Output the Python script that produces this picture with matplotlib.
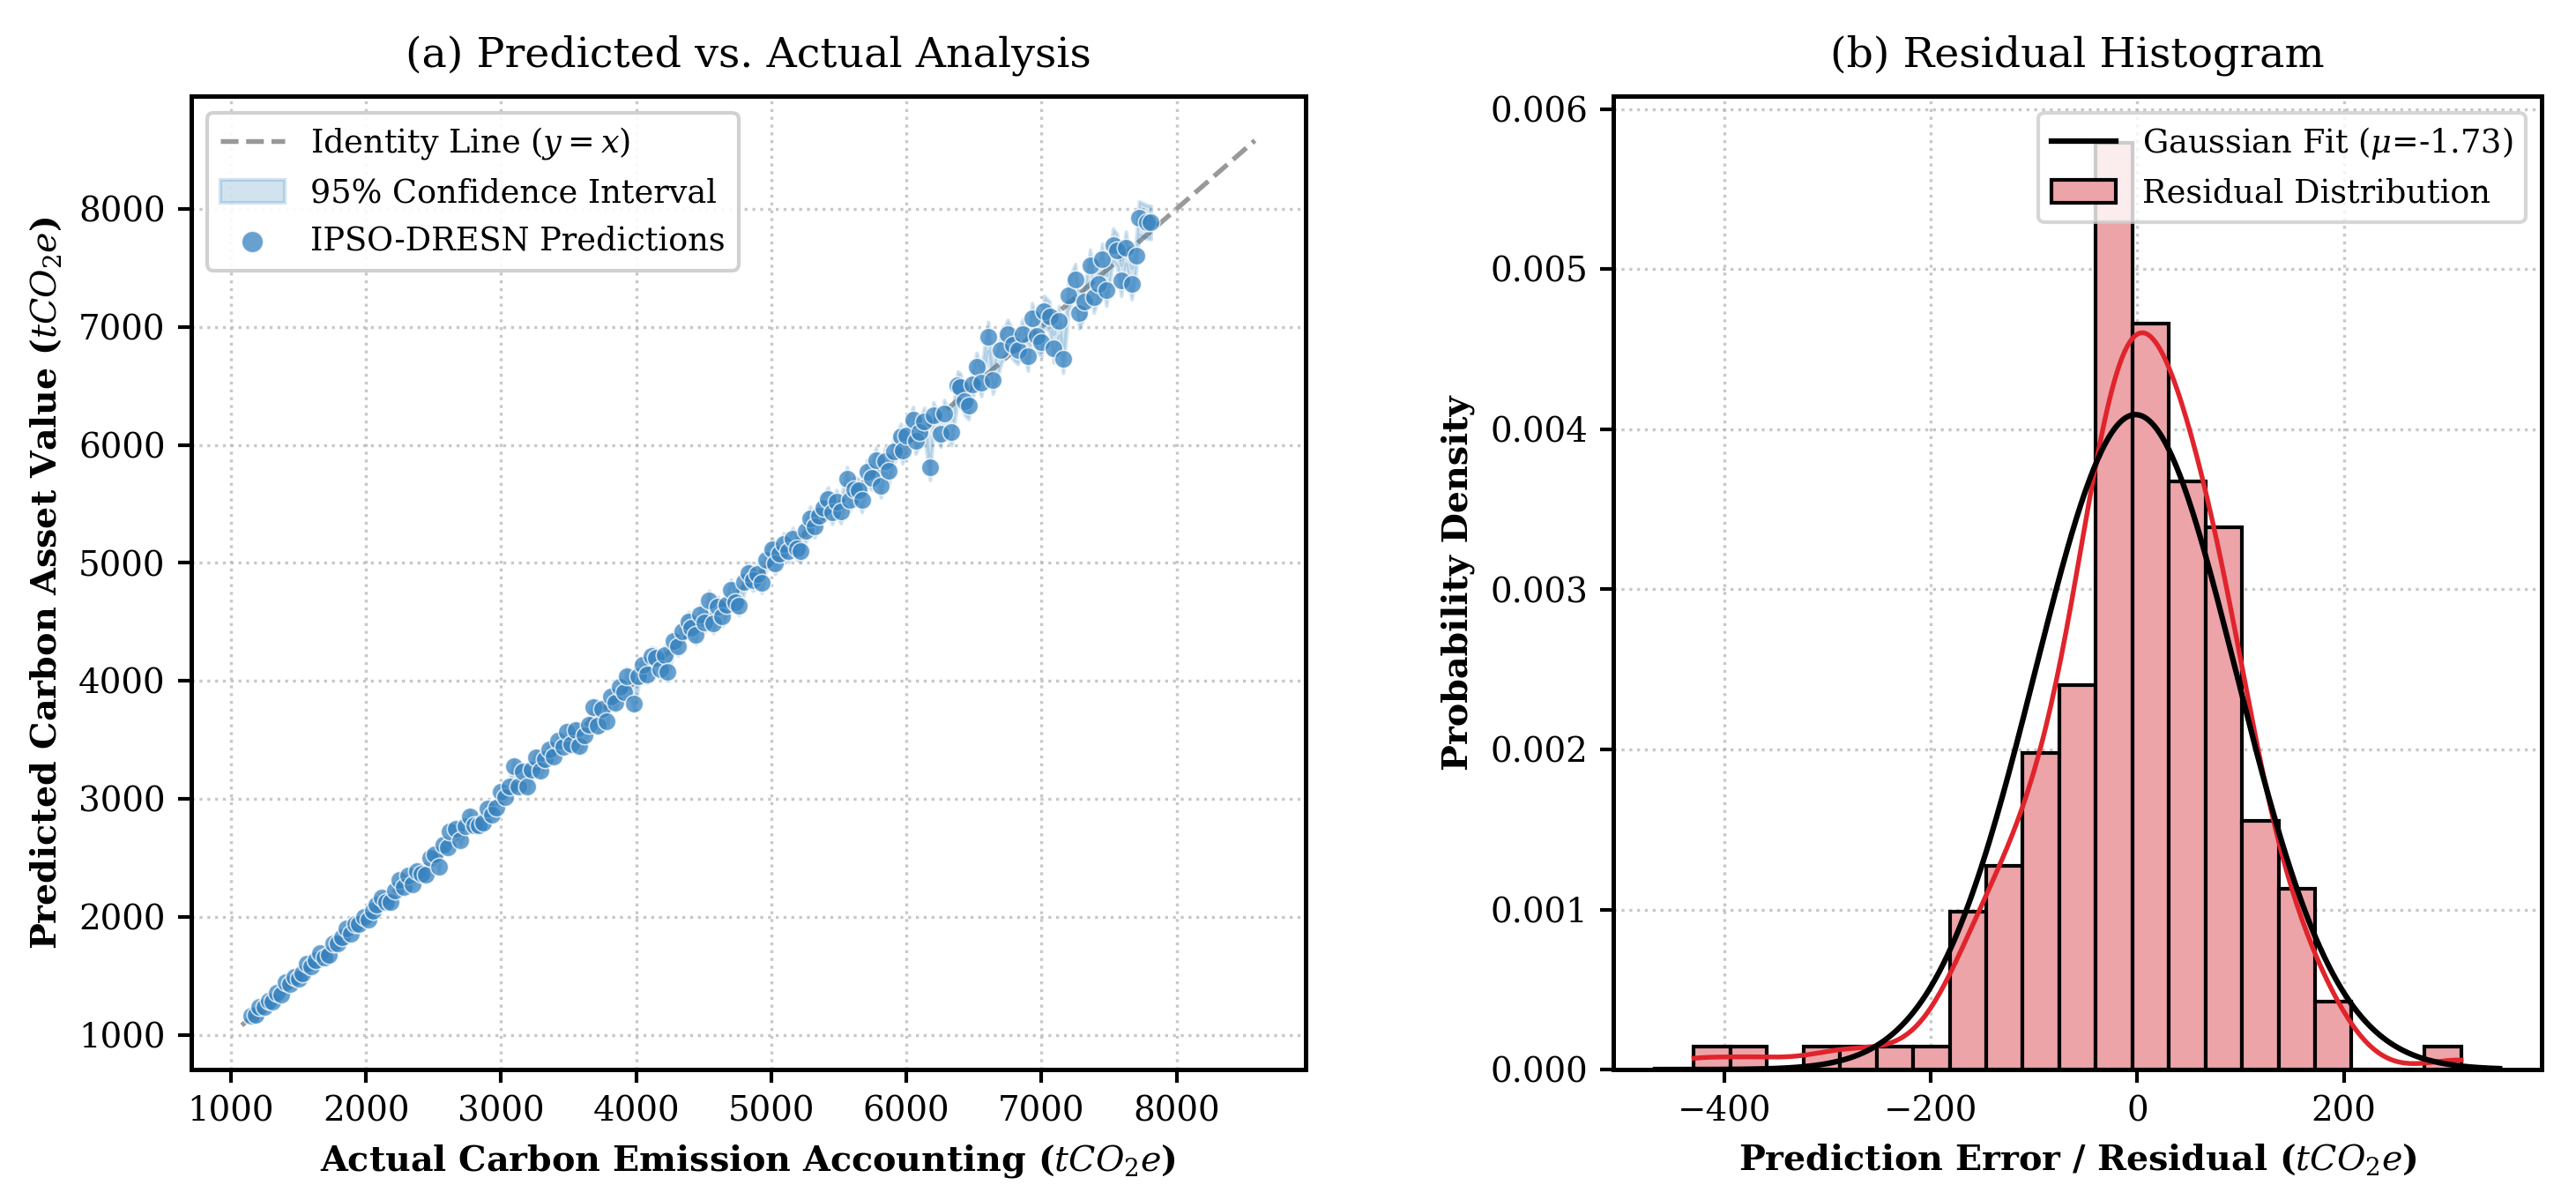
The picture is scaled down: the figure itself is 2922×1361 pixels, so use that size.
import numpy as np
import matplotlib
matplotlib.use("Agg")
import matplotlib.pyplot as plt

plt.rcParams["font.family"] = "DejaVu Serif"
plt.rcParams["mathtext.fontset"] = "dejavuserif"

# actual carbon emission accounting (tCO2e)
actual = [
    1150, 1185, 1210, 1248, 1280, 1305, 1342, 1370, 1405, 1440,
    1468, 1502, 1530, 1565, 1598, 1630, 1662, 1690, 1725, 1760,
    1792, 1820, 1855, 1888, 1920, 1950, 1985, 2018, 2050, 2080,
    2115, 2148, 2180, 2212, 2245, 2280, 2310, 2342, 2378, 2410,
    2440, 2475, 2508, 2540, 2572, 2605, 2620, 2668, 2700, 2735,
    2768, 2800, 2832, 2865, 2898, 2930, 2962, 2995, 3028, 3060,
    3095, 3128, 3160, 3195, 3228, 3260, 3292, 3325, 3358, 3390,
    3425, 3458, 3490, 3522, 3555, 3581, 3620, 3652, 3685, 3718,
    3750, 3781, 3815, 3848, 3880, 3912, 3930, 3986, 4018, 4050,
    4082, 4115, 4148, 4180, 4212, 4230, 4278, 4310, 4342, 4390,
    4410, 4442, 4475, 4508, 4540, 4572, 4605, 4638, 4670, 4702,
    4735, 4760, 4800, 4832, 4865, 4898, 4930, 4962, 5010, 5028,
    5060, 5092, 5125, 5158, 5190, 5217, 5255, 5288, 5320, 5352,
    5385, 5420, 5450, 5482, 5515, 5560, 5580, 5612, 5645, 5671,
    5710, 5742, 5775, 5811, 5840, 5872, 5905, 5960, 5970, 6002,
    6050, 6068, 6100, 6132, 6175, 6200, 6254, 6280, 6335, 6380,
    6400, 6430, 6460, 6490, 6520, 6555, 6605, 6640, 6700, 6750,
    6790, 6825, 6860, 6900, 6930, 6965, 7000, 7020, 7060, 7090,
    7130, 7160, 7200, 7250, 7280, 7320, 7360, 7387, 7420, 7450,
    7480, 7530, 7560, 7590, 7625, 7668, 7700, 7722, 7780, 7810,
]

# residual = predicted - actual, one per point above
residual = [
    12, -18, 25, -10, 8, -22, 15, -30, 40, -12,
    20, -25, -8, 35, -15, 5, 28, -35, -45, 18,
    -20, 10, 45, -28, 22, -12, 15, -38, 2, 26,
    48, -22, -55, 15, 70, -30, 38, -65, 12, -48,
    -85, 25, 18, -115, 40, -18, 105, 75, -48, 32,
    85, -25, -58, -70, 18, -62, -35, 65, -10, 45,
    180, -20, 75, -90, 22, 88, -50, 12, 58, -28,
    65, -15, 80, -60, 28, -135, -85, -22, 90, -95,
    15, -125, 52, -35, 70, -8, 110, -175, 20, 85,
    -30, 95, 48, -78, 10, -155, 62, -18, 78, 115,
    40, -52, 90, -12, 140, -88, 25, -92, -25, 72,
    -65, -120, 38, 82, -15, 5, -98, 60, 105, -32,
    20, 68, -28, 45, -70, -118, 15, 92, -10, 50,
    85, 120, -22, 35, -82, 150, -45, 12, -30, -140,
    60, -18, 95, -155, 25, -95, 40, 110, -20, 78,
    160, -35, 10, 70, -368, 48, -160, -12, -228, 125,
    88, -60, -128, 20, 140, -25, 313.8, -90, 105, 185,
    55, -18, 80, -150, 145, -45, -130, 115, 28, -270,
    -80, -429.6, 65, 150, -165, -105, 160, -137, -55, 120,
    -170, 165, 90, -195, 45, -300, -100, 200, 110, 75,
]

MU_FIT = -1.73
SIGMA_FIT = 97.5
N_BINS = 21
CI_REL = 0.018


def kde_curve(vals, n=300):
    bw = vals.std(ddof=1) * len(vals) ** (-1 / 5)
    xs = np.linspace(vals.min(), vals.max(), n)
    z = (xs[:, None] - vals[None, :]) / bw
    ys = np.exp(-0.5 * z ** 2).sum(axis=1) / (len(vals) * bw * np.sqrt(2 * np.pi))
    return xs, ys


def style_ax(ax):
    ax.grid(True, linestyle=":", color="#bbbbbb", linewidth=0.8, alpha=0.8)
    ax.set_axisbelow(True)
    for s in ax.spines.values():
        s.set_linewidth(1.2)
        s.set_color("black")
    ax.tick_params(labelsize=9.3, width=1.0, length=3.5)


act = np.array(actual, dtype=float)
res = np.array(residual, dtype=float)
pred = act + res

fig = plt.figure(figsize=(9.74, 4.537), dpi=300)
ax1 = fig.add_axes([0.0742, 0.1087, 0.4326, 0.8110])
ax2 = fig.add_axes([0.6263, 0.1087, 0.3604, 0.8110])

# ---- (a) predicted vs actual
lo = min(act.min(), pred.min()) * 0.94
hi = max(act.max(), pred.max()) * 1.083
ax1.plot([lo, hi], [lo, hi], "--", color="#999999", lw=1.3, label=r"Identity Line ($y=x$)", zorder=2)
order = np.argsort(act)
ax1.fill_between(act[order], pred[order] * (1 - CI_REL), pred[order] * (1 + CI_REL),
                 color="#1f77b4", alpha=0.2, label="95% Confidence Interval", zorder=2)
ax1.scatter(act, pred, s=24, color="#3682bf", alpha=0.75, edgecolor="white", linewidth=0.4,
            label="IPSO-DRESN Predictions", zorder=3)
ax1.set_xticks(range(1000, 9000, 1000))
ax1.set_yticks(range(1000, 9000, 1000))
ax1.set_xlabel(r"Actual Carbon Emission Accounting ($tCO_2e$)", fontsize=9.5, fontweight="bold")
ax1.set_ylabel(r"Predicted Carbon Asset Value ($tCO_2e$)", fontsize=9.5, fontweight="bold")
ax1.set_title("(a) Predicted vs. Actual Analysis", fontsize=11.4, pad=8)
style_ax(ax1)
ax1.legend(loc="upper left", fontsize=8.8, frameon=True, framealpha=0.9, edgecolor="#cccccc",
           markerscale=1.2)

# ---- (b) residual histogram
ax2.hist(res, bins=N_BINS, density=True, color="#eca4a9", edgecolor="black", linewidth=1.0,
         label="Residual Distribution", zorder=2)
kx, ky = kde_curve(res)
ax2.plot(kx, ky, color="#e0242c", lw=1.3, zorder=3)
xmin, xmax = ax2.get_xlim()
gx = np.linspace(xmin, xmax, 400)
gy = np.exp(-0.5 * ((gx - MU_FIT) / SIGMA_FIT) ** 2) / (SIGMA_FIT * np.sqrt(2 * np.pi))
ax2.plot(gx, gy, color="black", lw=1.5, label=r"Gaussian Fit ($\mu$=%.2f)" % MU_FIT, zorder=4)
ax2.set_xticks([-400, -200, 0, 200])
ax2.set_yticks([0, 0.001, 0.002, 0.003, 0.004, 0.005, 0.006])
ax2.set_xlabel(r"Prediction Error / Residual ($tCO_2e$)", fontsize=9.5, fontweight="bold")
ax2.set_ylabel("Probability Density", fontsize=9.5, fontweight="bold")
ax2.set_title("(b) Residual Histogram", fontsize=11.4, pad=8)
style_ax(ax2)
h, l = ax2.get_legend_handles_labels()
idx = [l.index(r"Gaussian Fit ($\mu$=%.2f)" % MU_FIT), l.index("Residual Distribution")]
ax2.legend([h[i] for i in idx], [l[i] for i in idx], loc="upper right", fontsize=8.8,
           frameon=True, framealpha=0.8, edgecolor="#cccccc")

fig.savefig("out.png", dpi=300)
